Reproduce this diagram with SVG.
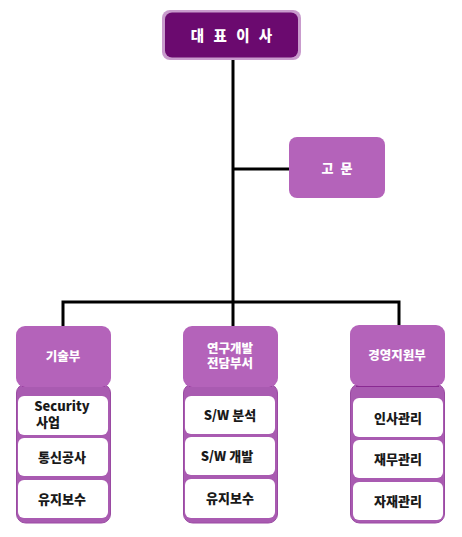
<svg xmlns="http://www.w3.org/2000/svg" width="462" height="537" viewBox="0 0 462 537">
<style>
.t{font-family:"Noto Sans CJK KR","Liberation Sans",sans-serif;font-weight:900;text-anchor:middle}
.hd{fill:#b463ba}
.sub{fill:#a95bb1;stroke:#9a4aa2;stroke-width:1}
.strip{fill:none;stroke:#8a2a92;stroke-width:2}
.wb{fill:#ffffff}
.ht{fill:#ffffff;font-size:12.5px}
.bt{fill:#1a1a1a;font-size:13px}
.ln{stroke:#000;stroke-width:3;fill:none}
</style>
<rect width="462" height="537" fill="#ffffff"/>
<g id="connectors">
<path class="ln" d="M233 60 V302"/>
<path class="ln" d="M233 169 H291"/>
<path class="ln" d="M63 327 V302 H399 V327"/>
<path class="ln" d="M233 302 V327"/>
</g>
<g id="ceo">
<rect x="162" y="10" width="139" height="50" rx="8" fill="#c99bcd"/>
<rect x="165" y="12.5" width="133" height="45" rx="7" fill="#6b0a6f"/>
<text class="t" x="233" y="41" fill="#ffffff" font-size="14.5" letter-spacing="3">대 표 이 사</text>
</g>
<g id="advisor">
<rect x="289" y="137" width="96" height="61" rx="8" fill="#b463ba"/>
<text class="t" x="338" y="173" fill="#ffffff" font-size="13" letter-spacing="2">고 문</text>
</g>
<g id="dept1">
<rect class="sub" x="16.5" y="384" width="94" height="139" rx="9"/>
<path class="strip" d="M22 386 H105"/>
<rect class="hd" x="16" y="326" width="95" height="61" rx="9"/>
<text class="t ht" x="63" y="361">기술부</text>
<rect class="wb" x="18" y="396" width="90" height="39" rx="6"/>
<text class="t bt" y="411"><tspan x="62">Security</tspan><tspan x="48" dy="16">사업</tspan></text>
<rect class="wb" x="18" y="438" width="90" height="38" rx="6"/>
<text class="t bt" x="62" y="462">통신공사</text>
<rect class="wb" x="18" y="480" width="90" height="38" rx="6"/>
<text class="t bt" x="62" y="504">유지보수</text>
</g>
<g id="dept2">
<rect class="sub" x="183.5" y="384" width="94" height="139" rx="9"/>
<path class="strip" d="M189 386 H272"/>
<rect class="hd" x="183" y="326" width="95" height="61" rx="9"/>
<text class="t ht" y="353"><tspan x="230">연구개발</tspan><tspan x="230" dy="15">전담부서</tspan></text>
<rect class="wb" x="185" y="396" width="90" height="38" rx="6"/>
<text class="t bt" x="230" y="420">S/W 분석</text>
<rect class="wb" x="185" y="437" width="90" height="38" rx="6"/>
<text class="t bt" x="227" y="461">S/W 개발</text>
<rect class="wb" x="185" y="479" width="90" height="39" rx="6"/>
<text class="t bt" x="230" y="503">유지보수</text>
</g>
<g id="dept3">
<rect class="sub" x="350.5" y="384" width="94" height="139" rx="9"/>
<path class="strip" d="M356 386 H439"/>
<rect class="hd" x="350" y="325" width="95" height="61" rx="9"/>
<text class="t ht" x="397" y="360">경영지원부</text>
<rect class="wb" x="353" y="398" width="90" height="39" rx="6"/>
<text class="t bt" x="398" y="423">인사관리</text>
<rect class="wb" x="353" y="440" width="90" height="38" rx="6"/>
<text class="t bt" x="398" y="464">재무관리</text>
<rect class="wb" x="353" y="482" width="90" height="38" rx="6"/>
<text class="t bt" x="398" y="506">자재관리</text>
</g>
</svg>
